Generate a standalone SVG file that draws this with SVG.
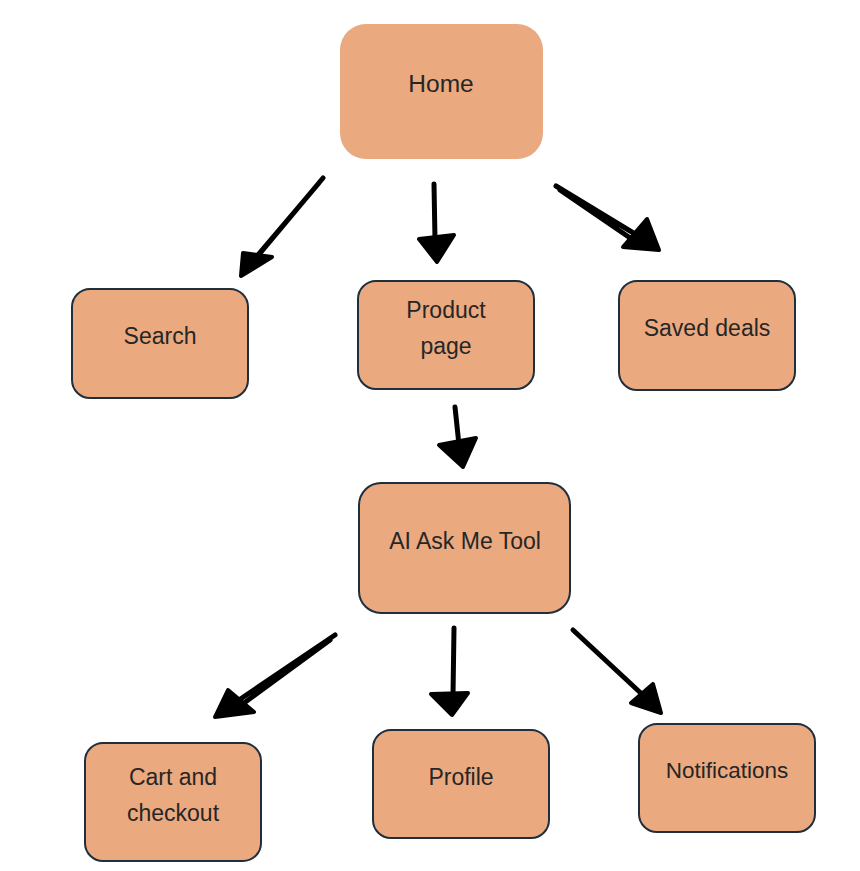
<svg xmlns="http://www.w3.org/2000/svg" width="860" height="871" viewBox="0 0 860 871">
<style>
.box{fill:#EBA980;stroke:#1F2F3D;stroke-width:2}
.lbl{font-family:"Liberation Sans",Arial,sans-serif;font-size:23px;fill:#262626;text-anchor:middle}
.ln{stroke:#000;stroke-width:5;stroke-linecap:round;fill:none}
.hd{fill:#000;stroke:#000;stroke-width:4;stroke-linejoin:round}
</style>
<rect width="860" height="871" fill="#fff"/>
<g id="home"><rect x="340" y="24" width="203" height="135" rx="26" fill="#EBA980"/><text class="lbl" x="441" y="92" style="font-size:24.5px">Home</text></g>
<g id="search"><rect class="box" x="72" y="289" width="176" height="109" rx="18"/><text class="lbl" x="160" y="344">Search</text></g>
<g id="product"><rect class="box" x="358" y="281" width="176" height="108" rx="18"/><text class="lbl" x="446" y="318">Product</text><text class="lbl" x="446" y="354">page</text></g>
<g id="saved"><rect class="box" x="619" y="281" width="176" height="109" rx="18"/><text class="lbl" x="707" y="336">Saved deals</text></g>
<g id="ai"><rect class="box" x="359" y="483" width="211" height="130" rx="22"/><text class="lbl" x="465" y="549">AI Ask Me Tool</text></g>
<g id="cart"><rect class="box" x="85" y="743" width="176" height="118" rx="18"/><text class="lbl" x="173" y="785">Cart and</text><text class="lbl" x="173" y="821">checkout</text></g>
<g id="profile"><rect class="box" x="373" y="730" width="176" height="108" rx="18"/><text class="lbl" x="461" y="785">Profile</text></g>
<g id="notif"><rect class="box" x="639" y="724" width="176" height="108" rx="18"/><text class="lbl" x="727" y="778" style="font-size:22.5px">Notifications</text></g>
<g id="connectors">
<path class="ln" d="M323,178 L256,258 M319,183 L252,262"/><polygon class="hd" points="241,276 243,253 272,257"/>
<path class="ln" d="M434,184 L435,240"/><polygon class="hd" points="419,239 454,235 437,262"/>
<path class="ln" d="M556,186 L640,237 M560,190 L636,242"/><polygon class="hd" points="659,250 647,219 623,247"/>
<path class="ln" d="M455,407 L459,445"/><polygon class="hd" points="439,445 476,438 463,467"/>
<path class="ln" d="M335,635 L236,702 M330,640 L240,706"/><polygon class="hd" points="215,717 228,690 254,712"/>
<path class="ln" d="M454,628 L453,695"/><polygon class="hd" points="431,694 468,693 452,715"/>
<path class="ln" d="M573,630 L645,697"/><polygon class="hd" points="661,713 653,684 631,703"/>
</g>
</svg>
